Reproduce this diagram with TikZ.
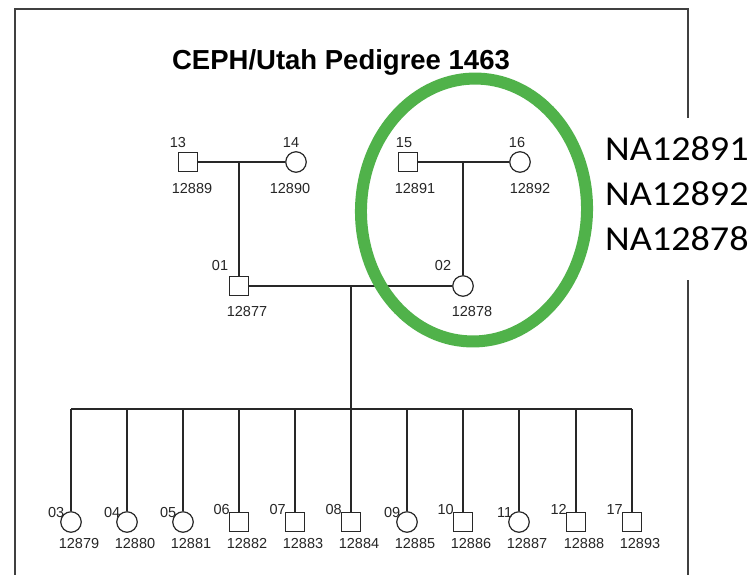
\documentclass[tikz,border=0pt]{standalone}
\usepackage{fontspec}
\usetikzlibrary{shapes.geometric}
\setmainfont{Liberation Sans}
\newfontfamily\nafont{Carlito}
\definecolor{hlgreen}{RGB}{80,178,74}
\definecolor{lineg}{RGB}{40,40,40}
\begin{document}
\begin{tikzpicture}[x=1pt,y=-1pt,
  male/.style={draw=lineg,line width=1.2pt,rectangle,minimum size=19pt,inner sep=0pt},
  female/.style={draw=lineg,line width=1.2pt,circle,minimum size=20.5pt,inner sep=0pt},
  rel/.style={draw=lineg,line width=1.2pt},
  lab/.style={font=\fontsize{14.5}{16}\selectfont,inner sep=0pt,text=black!85},
  frame/.style={draw=black!75,line width=1.6pt},
  title/.style={font=\fontsize{27.5}{30}\selectfont\bfseries,inner sep=0pt},
  natext/.style={font=\nafont\fontsize{35}{44}\selectfont,inner sep=0pt,anchor=west,xscale=1.09}]
\useasboundingbox (0,0) rectangle (752,574);
\fill[white] (0,0) rectangle (752,574);
% frame
\coordinate (fbl) at (15,576);
\coordinate (ftl) at (15,9);
\coordinate (ftr) at (688,9);
\coordinate (fr1) at (688,118);
\coordinate (fr2) at (688,280);
\coordinate (fbr) at (688,576);
\draw[frame] (fbl) -- (ftl) -- (ftr) -- (fr1);
\draw[frame] (fr2) -- (fbr);
% title
\node[title] (title) at (341,62) {CEPH/Utah Pedigree 1463};
% generation 1
\node[male] (p13) at (188,162) {};
\node[female] (p14) at (296,162) {};
\node[male] (p15) at (408,162) {};
\node[female] (p16) at (520,162) {};
\node[lab] (l13) at (178,143) {13};
\node[lab] (l14) at (291,143) {14};
\node[lab] (l15) at (404,143) {15};
\node[lab] (l16) at (517,143) {16};
\node[lab] (i13) at (192,189) {12889};
\node[lab] (i14) at (290,189) {12890};
\node[lab] (i15) at (415,189) {12891};
\node[lab] (i16) at (530,189) {12892};
% generation 2
\node[male] (p01) at (239,286) {};
\node[female] (p02) at (463,286) {};
\node[lab] (l01) at (220,266) {01};
\node[lab] (l02) at (443,266) {02};
\node[lab] (i01) at (247,312) {12877};
\node[lab] (i02) at (472,312) {12878};
% marriage lines
\coordinate (m1) at (239,162);
\coordinate (m2) at (463,162);
\coordinate (m3) at (351,286);
\draw[rel] (p13) -- (p14);
\draw[rel] (p15) -- (p16);
\draw[rel] (m1) -- (p01);
\draw[rel] (m2) -- (p02);
\draw[rel] (p01) -- (p02);
% sibship
\coordinate (s0) at (351,409);
\coordinate (sl) at (71,409);
\coordinate (sr) at (632,409);
\draw[rel] (m3) -- (s0);
\draw[rel] (sl) -- (sr);
% children
\foreach \num/\id/\sx/\shape [count=\k] in {03/12879/71/female,04/12880/127/female,05/12881/183/female,06/12882/239/male,07/12883/295/male,08/12884/351/male,09/12885/407/female,10/12886/463/male,11/12887/519/female,12/12888/576/male,17/12893/632/male}{
  \node[\shape] (c\k) at (\sx,522) {};
  \coordinate (t\k) at (\sx,409);
  \draw[rel] (t\k) -- (c\k);
  \node[lab,anchor=east] (cl\k) at ([shift={(1,-2)}]c\k.north west) {\num};
  \node[lab] (ci\k) at (\sx+8,543) {\id};
}
% highlight
\node[draw=hlgreen,line width=12pt,ellipse,minimum width=226pt,minimum height=263pt,inner sep=0pt,rotate=-2] (hl) at (474,210) {};
% side text
\node[natext] (na1) at (605,149) {NA12891};
\node[natext] (na2) at (605,194) {NA12892};
\node[natext] (na3) at (605,239) {NA12878};
\end{tikzpicture}
\end{document}
